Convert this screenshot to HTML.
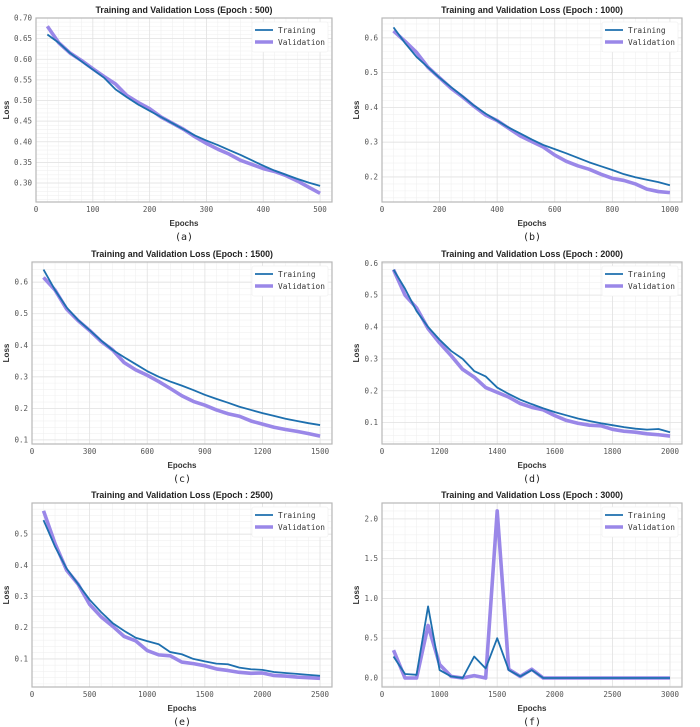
<!DOCTYPE html>
<html><head><meta charset="utf-8">
<style>
html,body{margin:0;padding:0;background:#fff;width:700px;height:727px;overflow:hidden;}
svg{display:block;}
.title{font-family:"Liberation Sans",sans-serif;font-weight:bold;font-size:8.8px;fill:#222;}
.tick{font-family:"DejaVu Sans Mono","Liberation Mono",monospace;font-size:7.5px;fill:#555;}
.axl{font-family:"Liberation Sans",sans-serif;font-weight:bold;font-size:8px;fill:#333;}
.leg{font-family:"DejaVu Sans Mono","Liberation Mono",monospace;font-size:7.8px;fill:#333;}
.cap{font-family:"DejaVu Sans Mono","Liberation Mono",monospace;font-size:10px;fill:#222;}
</style></head>
<body>
<svg id="chart" width="700" height="727" xmlns="http://www.w3.org/2000/svg"></svg>
<script>
// Panel (a)
const aEpochs = [20,40,60,80,100,120,140,160,180,200,220,240,260,280,300,320,340,360,380,400,420,440,460,480,500];
const aTrain = [.66,.64,.615,.595,.575,.555,.527,.508,.49,.475,.46,.445,.43,.415,.403,.392,.38,.368,.355,.342,.33,.32,.31,.301,.293];
const aVal = [.68,.64,.615,.597,.577,.558,.54,.512,.495,.48,.46,.445,.43,.412,.396,.382,.37,.355,.345,.335,.328,.318,.305,.29,.275];
const aXTicks = [0,100,200,300,400,500];
const aXLabels = ["0","100","200","300","400","500"];
const aYTicks = [0.30,0.35,0.40,0.45,0.50,0.55,0.60,0.65,0.70];
const aYLabels = ["0.30","0.35","0.40","0.45","0.50","0.55","0.60","0.65","0.70"];
// Panel (b)
const bEpochs = [40,80,120,160,200,240,280,320,360,400,440,480,520,560,600,640,680,720,760,800,840,880,920,960,1000];
const bTrain = [.63,.585,.545,.515,.485,.458,.432,.405,.382,.362,.342,.325,.308,.292,.28,.268,.255,.242,.231,.22,.208,.199,.192,.185,.176];
const bVal = [.62,.59,.558,.515,.485,.455,.43,.403,.378,.362,.34,.318,.302,.286,.263,.245,.232,.222,.208,.196,.19,.18,.165,.158,.155];
const bXTicks = [0,200,400,600,800,1000];
const bXLabels = ["0","200","400","600","800","1000"];
const bYTicks = [0.2,0.3,0.4,0.5,0.6];
const bYLabels = ["0.2","0.3","0.4","0.5","0.6"];
// Panel (c)
const cEpochs = [60,120,180,240,300,360,420,480,540,600,660,720,780,840,900,960,1020,1080,1140,1200,1260,1320,1380,1440,1500];
const cTrain = [.64,.575,.52,.48,.448,.415,.385,.362,.34,.318,.3,.285,.272,.258,.243,.23,.218,.205,.195,.185,.176,.167,.16,.153,.147];
const cVal = [.615,.575,.515,.478,.447,.412,.385,.345,.322,.305,.285,.263,.24,.222,.21,.195,.183,.175,.16,.15,.14,.133,.127,.12,.112];
const cXTicks = [0,300,600,900,1200,1500];
const cXLabels = ["0","300","600","900","1200","1500"];
const cYTicks = [0.1,0.2,0.3,0.4,0.5,0.6];
const cYLabels = ["0.1","0.2","0.3","0.4","0.5","0.6"];
// Panel (d)
const dEpochs = [80,160,240,320,400,480,560,640,720,800,880,960,1040,1120,1200,1280,1360,1440,1520,1600,1680,1760,1840,1920,2000];
const dTrain = [.58,.52,.45,.40,.36,.325,.30,.262,.245,.21,.19,.172,.158,.145,.133,.123,.113,.105,.098,.092,.086,.081,.078,.08,.07];
const dVal = [.58,.50,.46,.395,.35,.31,.267,.243,.21,.195,.18,.16,.148,.14,.122,.107,.098,.092,.09,.079,.073,.07,.065,.062,.058];
const dXTicks = [0,400,800,1200,1600,2000];
const dXLabels = ["0","1200","1400","1600","1800","2000"];
const dYTicks = [0.1,0.2,0.3,0.4,0.5,0.6];
const dYLabels = ["0.1","0.2","0.3","0.4","0.5","0.6"];
// Panel (e)
const eEpochs = [100,200,300,400,500,600,700,800,900,1000,1100,1200,1300,1400,1500,1600,1700,1800,1900,2000,2100,2200,2300,2400,2500];
const eTrain = [.545,.46,.39,.34,.29,.25,.215,.19,.168,.157,.147,.122,.115,.1,.092,.085,.083,.072,.067,.065,.058,.055,.052,.049,.046];
const eVal = [.575,.47,.385,.34,.275,.235,.205,.172,.158,.127,.113,.11,.09,.085,.078,.068,.063,.057,.054,.055,.047,.045,.042,.04,.038];
const eXTicks = [0,500,1000,1500,2000,2500];
const eXLabels = ["0","500","1000","1500","2000","2500"];
const eYTicks = [0.1,0.2,0.3,0.4,0.5];
const eYLabels = ["0.1","0.2","0.3","0.4","0.5"];
// Panel (f)
const fEpochs = [120,240,360,480,600,720,840,960,1080,1200,1320,1440,1560,1680,1800,1920,2040,2160,2280,2400,2520,2640,2760,2880,3000];
const fTrain = [.27,.05,.04,.9,.1,.02,0,.27,.12,.5,.1,.02,.1,0,0,0,0,0,0,0,0,0,0,0,0];
const fVal = [.35,0,0,.66,.17,.02,0,.03,0,2.1,.11,.02,.11,0,0,0,0,0,0,0,0,0,0,0,0];
const fXTicks = [0,600,1200,1800,2400,3000];
const fXLabels = ["0","1000","1500","2000","2500","3000"];
const fYTicks = [0,0.5,1.0,1.5,2.0];
const fYLabels = ["0.0","0.5","1.0","1.5","2.0"];

const NS = "http://www.w3.org/2000/svg";
const svg = document.getElementById("chart");
function mk(tag, attrs, parent){
  const e = document.createElementNS(NS, tag);
  for (const k in attrs) e.setAttribute(k, attrs[k]);
  (parent||svg).appendChild(e);
  return e;
}
function panel(p){
  const g = mk("g", {});
  
  
  const L=p.L,R=p.R,T=p.T,B=p.B;
  const sx = v => L + (v - p.x0)/(p.x1 - p.x0)*(R-L);
  const sy = v => B - (v - p.y0)/(p.y1 - p.y0)*(B-T);
  mk("rect",{x:L,y:T,width:R-L,height:B-T,fill:"#fff"},g);
  const xs = p.xt[1]-p.xt[0], ys = p.yt[1]-p.yt[0];
  for (let v = p.xt[0]-xs; v <= p.x1; v += xs/5){ if (v < p.x0) continue;
    mk("line",{x1:sx(v),x2:sx(v),y1:T,y2:B,stroke:"#f0f0f0","stroke-width":0.6},g); }
  for (let v = p.yt[0]-ys; v <= p.y1; v += ys/5){ if (v < p.y0) continue;
    mk("line",{x1:L,x2:R,y1:sy(v),y2:sy(v),stroke:"#f0f0f0","stroke-width":0.6},g); }
  p.xt.forEach((v,i)=>{
    mk("line",{x1:sx(v),x2:sx(v),y1:T,y2:B,stroke:"#e2e2e2","stroke-width":0.8},g);
    const t = mk("text",{x:sx(v),y:B+10,"text-anchor":"middle",class:"tick"},g); t.textContent=p.xl[i];
    
    
  });
  p.yt.forEach((v,i)=>{
    mk("line",{x1:L,x2:R,y1:sy(v),y2:sy(v),stroke:"#e2e2e2","stroke-width":0.8},g);
    const t = mk("text",{x:L-4,y:sy(v)+2.5,"text-anchor":"end",class:"tick"},g); t.textContent=p.yl[i];
    
    
  });
  mk("rect",{x:L,y:T,width:R-L,height:B-T,fill:"none",stroke:"#b8b8b8","stroke-width":1.2},g);
  const cp = mk("clipPath",{id:"clip"+p.id},g);
  mk("rect",{x:L,y:T,width:R-L,height:B-T},cp);
  const tr = p.tr.map((v,i)=>sx(p.ep[i])+","+sy(v)).join(" ");
  const va = p.va.map((v,i)=>sx(p.ep[i])+","+sy(v)).join(" ");
  const vl = mk("polyline",{points:va,fill:"none",stroke:"#9a87e8","stroke-width":3.6,"stroke-linejoin":"round","clip-path":"url(#clip"+p.id+")"},g);
  
  
  const tl = mk("polyline",{points:tr,fill:"none",stroke:"#1d6fae","stroke-width":1.8,"stroke-linejoin":"round","clip-path":"url(#clip"+p.id+")"},g);
  
  
  const lg = mk("g",{},g);
  
  
  mk("rect",{x:R-80,y:T+4,width:76,height:30,fill:"#fff",stroke:"#eee","stroke-width":0.6,rx:2},lg);
  mk("line",{x1:R-77,x2:R-59,y1:T+12,y2:T+12,stroke:"#1d6fae","stroke-width":1.8},lg);
  mk("line",{x1:R-77,x2:R-59,y1:T+24,y2:T+24,stroke:"#9a87e8","stroke-width":3.6},lg);
  const l1 = mk("text",{x:R-54,y:T+15,class:"leg"},lg); l1.textContent="Training";
  
  
  const l2 = mk("text",{x:R-54,y:T+27,class:"leg"},lg); l2.textContent="Validation";
  
  
  const ti = mk("text",{x:(L+R)/2,y:T-5,"text-anchor":"middle",class:"title"},g); ti.textContent=p.title;
  
  
  const xa = mk("text",{x:(L+R)/2,y:B+24,"text-anchor":"middle",class:"axl"},g); xa.textContent="Epochs";
  
  
  const ya = mk("text",{x:0,y:0,"text-anchor":"middle",class:"axl",transform:"translate("+(p.L0+9)+","+((T+B)/2)+") rotate(-90)"},g); ya.textContent="Loss";
  
  
  const c = mk("text",{x:(L+R)/2,y:B+38,"text-anchor":"middle",class:"cap"},g); c.textContent="("+p.id+")";
  
  
}
panel({id:"a",title:"Training and Validation Loss (Epoch : 500)",L0:0,L:36,R:332,T:18,B:202,x0:0,x1:521,y0:0.254,y1:0.70,ep:aEpochs,tr:aTrain,va:aVal,xt:aXTicks,xl:aXLabels,yt:aYTicks,yl:aYLabels});
panel({id:"b",title:"Training and Validation Loss (Epoch : 1000)",L0:350,L:382,R:682,T:18,B:202,x0:0,x1:1042,y0:0.128,y1:0.657,ep:bEpochs,tr:bTrain,va:bVal,xt:bXTicks,xl:bXLabels,yt:bYTicks,yl:bYLabels});
panel({id:"c",title:"Training and Validation Loss (Epoch : 1500)",L0:0,L:32,R:332,T:262,B:444,x0:0,x1:1562,y0:0.087,y1:0.664,ep:cEpochs,tr:cTrain,va:cVal,xt:cXTicks,xl:cXLabels,yt:cYTicks,yl:cYLabels});
panel({id:"d",title:"Training and Validation Loss (Epoch : 2000)",L0:350,L:382,R:682,T:262,B:444,x0:0,x1:2083,y0:0.033,y1:0.604,ep:dEpochs,tr:dTrain,va:dVal,xt:dXTicks,xl:dXLabels,yt:dYTicks,yl:dYLabels});
panel({id:"e",title:"Training and Validation Loss (Epoch : 2500)",L0:0,L:32,R:332,T:503,B:687,x0:0,x1:2604,y0:0.010,y1:0.600,ep:eEpochs,tr:eTrain,va:eVal,xt:eXTicks,xl:eXLabels,yt:eYTicks,yl:eYLabels});
panel({id:"f",title:"Training and Validation Loss (Epoch : 3000)",L0:350,L:382,R:682,T:503,B:687,x0:0,x1:3125,y0:-0.113,y1:2.2,ep:fEpochs,tr:fTrain,va:fVal,xt:fXTicks,xl:fXLabels,yt:fYTicks,yl:fYLabels});
</script>
</body></html>
